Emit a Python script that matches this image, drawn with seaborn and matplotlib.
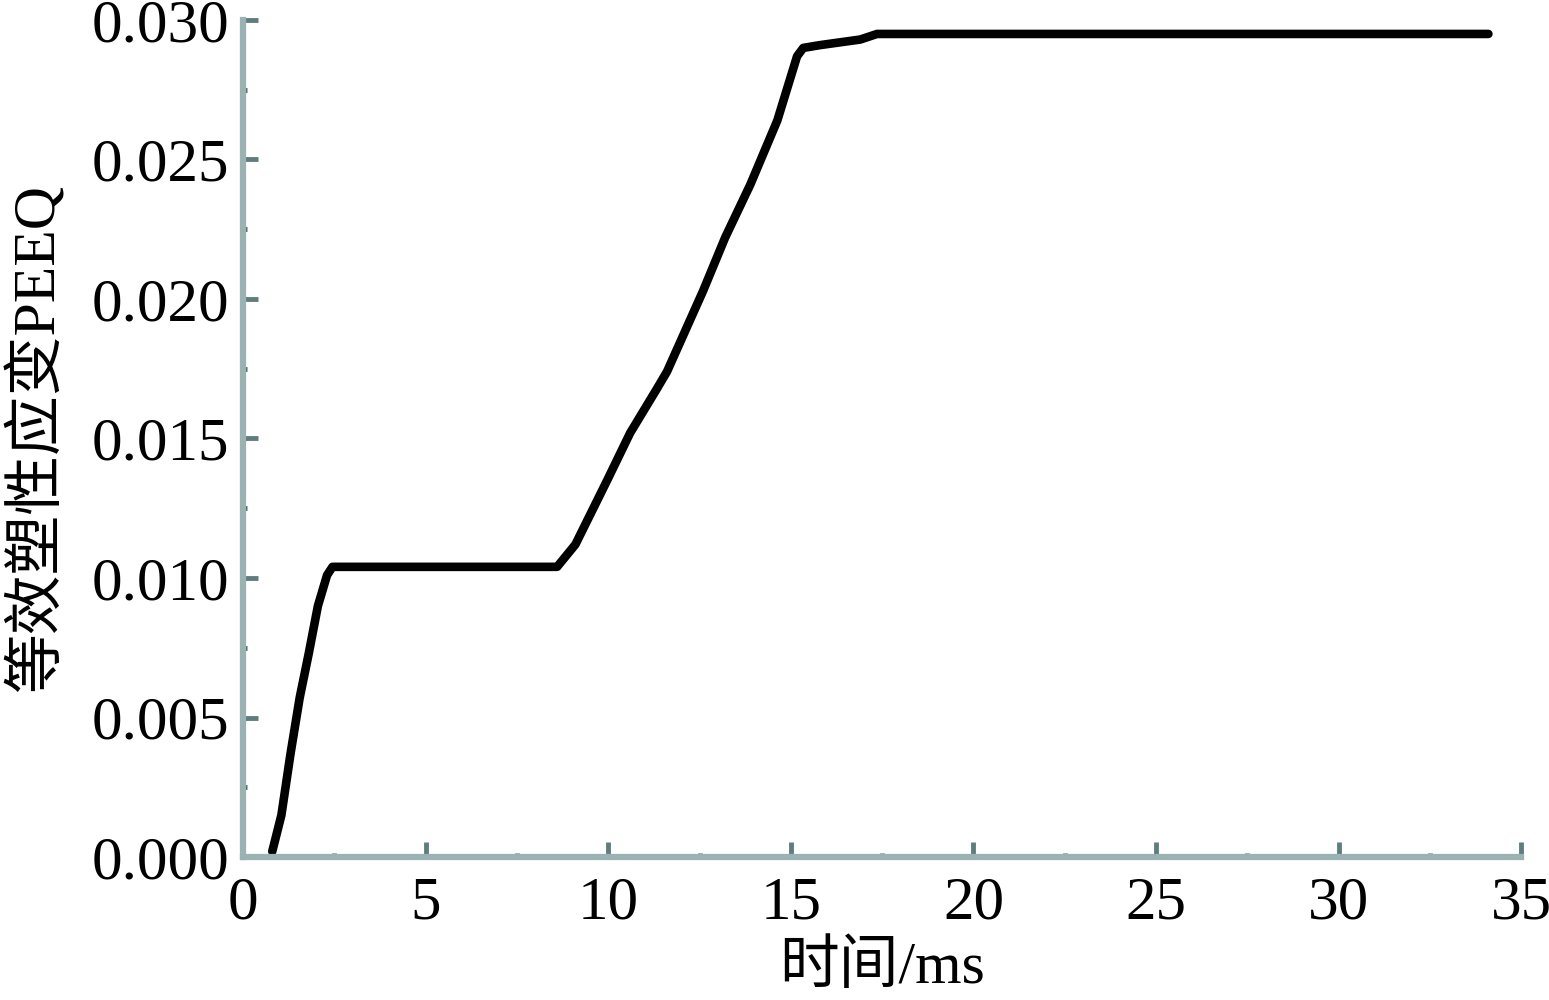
import matplotlib
matplotlib.use("Agg")
import pandas as pd
import matplotlib.pyplot as plt
from matplotlib.ticker import MultipleLocator, FormatStrFormatter
import seaborn as sns

# Time (ms) and equivalent plastic strain
time_ms = [0.80, 1.05, 1.30, 1.55, 1.80, 2.05, 2.30, 2.45, 5.00, 8.60,
           9.10, 9.97, 10.60, 11.34, 11.61, 12.60, 13.20, 13.89, 14.63,
           15.17, 15.34, 15.80, 16.35, 16.90, 17.36, 34.10]
peeq = [0.0002, 0.0015, 0.0037, 0.0057, 0.0073, 0.0090, 0.0101, 0.0104, 0.0104, 0.0104,
        0.0112, 0.0135, 0.0152, 0.0168, 0.0174, 0.0203, 0.0222, 0.0241, 0.0264,
        0.0287, 0.0290, 0.0291, 0.0292, 0.0293, 0.0295, 0.0295]

x_ticks = [0, 5, 10, 15, 20, 25, 30, 35]
y_ticks = [0.000, 0.005, 0.010, 0.015, 0.020, 0.025, 0.030]
x_label = "时间/ms"
y_label = "等效塑性应变PEEQ"

df = pd.DataFrame({"time": time_ms, "peeq": peeq})

sns.set_theme(style="white")
plt.rcParams["font.family"] = ["Liberation Serif", "Noto Sans CJK SC"]
plt.rcParams["text.color"] = "black"
plt.rcParams["axes.labelcolor"] = "black"

fig = plt.figure(figsize=(15.49, 10), dpi=100)
ax = fig.add_axes([0.1569, 0.143, 0.8252, 0.837])

sns.lineplot(data=df, x="time", y="peeq", color="black", linewidth=6.2,
             estimator=None, ax=ax)

ax.set_xlim(0, 35)
ax.set_ylim(0, 0.030)
ax.set_xticks(x_ticks)
ax.set_yticks(y_ticks)
ax.yaxis.set_major_formatter(FormatStrFormatter("%.3f"))
ax.xaxis.set_minor_locator(MultipleLocator(2.5))
ax.yaxis.set_minor_locator(MultipleLocator(0.0025))

spine_color = "#9bb2b2"
for side in ["top", "right"]:
    ax.spines[side].set_visible(False)
for side in ["left", "bottom"]:
    ax.spines[side].set_color(spine_color)
    ax.spines[side].set_linewidth(4.5)

ax.tick_params(which="major", direction="in", length=11, width=3.5,
               color="#5f7d7d", labelsize=44, labelcolor="black")
ax.tick_params(axis="x", which="major", pad=14)
ax.tick_params(axis="y", which="major", pad=10)
ax.tick_params(which="minor", direction="in", length=3, width=3.5,
               color="#4a6868")
ax.tick_params(bottom=True, left=True, which="both")

ax.set_xlabel(x_label, fontsize=43, labelpad=7, color="black")
ax.set_ylabel(y_label, fontsize=43, labelpad=18, color="black")

fig.savefig("out.png", dpi=100, facecolor="white")
